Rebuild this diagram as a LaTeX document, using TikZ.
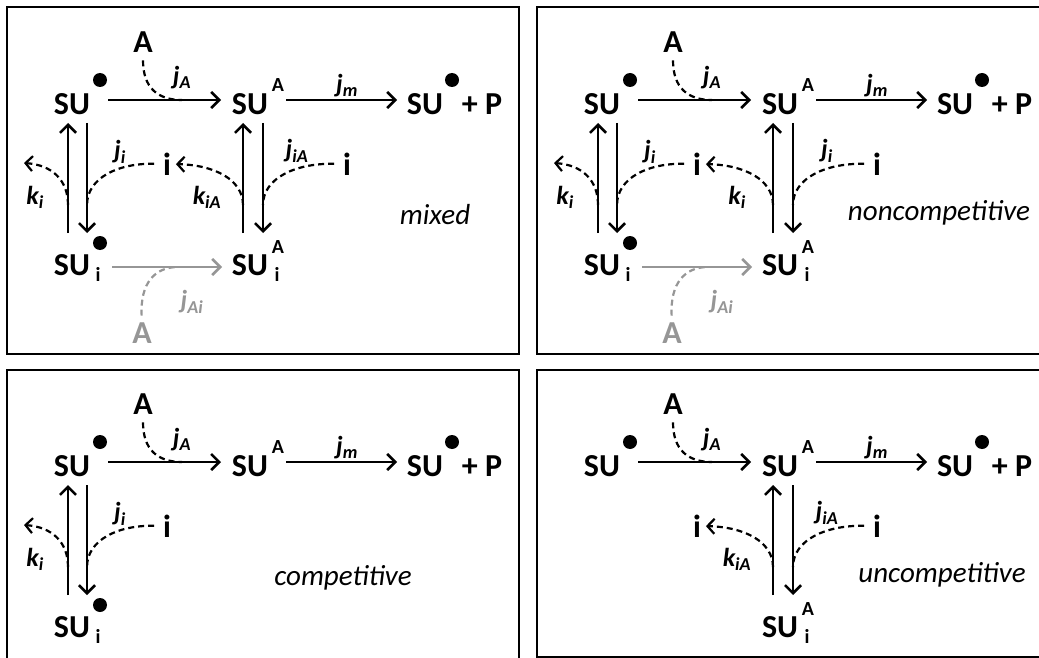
\documentclass[tikz,border=0pt]{standalone}
\usepackage{fontspec}
\setmainfont{Carlito}
\usepackage{tikz}
\usetikzlibrary{positioning,arrows.meta}
\definecolor{faded}{HTML}{969696}

\begin{document}
\begin{tikzpicture}[x=1pt,y=-1pt,
  every node/.style={inner sep=0pt,outer sep=0pt},
  spec/.style={font=\fontsize{32}{34}\selectfont\bfseries},
  tag/.style={font=\fontsize{20}{22}\selectfont\bfseries},
  rate/.style={font=\fontsize{26}{28}\selectfont\bfseries\itshape},
  kind/.style={font=\fontsize{29}{31}\selectfont\itshape},
  dot/.style={circle,fill,minimum size=14pt},
  react/.style={line width=2.6pt,-{Straight Barb[length=8pt,width=16pt]}},
  bind/.style={line width=2.2pt,dash pattern=on 6pt off 4pt},
  release/.style={bind,-{Straight Barb[length=7pt,width=15pt]}},
  panel/.style={line width=2.6pt}]
  \useasboundingbox (0,0) rectangle (1039,658);
  \def\core{
    \node[spec] (su) at (72,104) {SU};
    \node[dot] (sudot) at (100,80) {};
    \node[spec] (sua) at (250,104) {SU};
    \node[tag] (suasup) at (278,85) {A};
    \node[spec] (sup) at (425,104) {SU};
    \node[dot] (supdot) at (452,80) {};
    \node[spec] (prod) at (482,104) {+ P};
    \node[spec] (atop) at (143,42) {A};
    \node[rate] (ja) at (182,78) {j\textsubscript{A}};
    \node[rate] (jm) at (347,86) {j\textsubscript{m}};
    \node[spec] (imid) at (167,164) {i};
    \coordinate (r1a) at (108,100); \coordinate (r1b) at (221,100);
    \coordinate (r2a) at (286,100); \coordinate (r2b) at (397,100);
    \coordinate (ain) at (182,100);
    \draw[react] (r1a) -- (r1b);
    \draw[react] (r2a) -- (r2b);
    \draw[bind,shorten <=8pt] (atop.south) .. controls (143,88) and (158,100) .. (ain);
  }
  \def\leftpair{
    \coordinate (lup1) at (68,233); \coordinate (lup2) at (68,123);
    \coordinate (ldn1) at (87,123); \coordinate (ldn2) at (87,233);
    \draw[react] (lup1) -- (lup2);
    \draw[react] (ldn1) -- (ldn2);
    \node[rate] (kl) at (35,197) {k\textsubscript{i}};
    \node[rate] (jl) at (120,152) {j\textsubscript{i}};
    \coordinate (klfrom) at (68,205); \coordinate (klout) at (24,163);
    \coordinate (jlinto) at (87,205);
    \draw[release] (klfrom) .. controls (68,180) and (52,165) .. (klout);
    \draw[bind,shorten <=9pt] (imid.west) .. controls (118,163) and (87,178) .. (jlinto);
    \node[spec] (sui) at (72,265) {SU};
    \node[tag] (suisub) at (98,274) {i};
    \node[dot] (suidot) at (100,243) {};
  }
  \def\rightpair#1{
    \coordinate (rup1) at (243,233); \coordinate (rup2) at (243,123);
    \coordinate (rdn1) at (263,123); \coordinate (rdn2) at (263,233);
    \draw[react] (rup1) -- (rup2);
    \draw[react] (rdn1) -- (rdn2);
    \node[spec] (iright) at (347,164) {i};
    \node[rate] (kr) at (207,197) {k\textsubscript{#1}};
    \node[rate] (jr) at (297,151) {j\textsubscript{#1}};
    \coordinate (krfrom) at (243,205); \coordinate (jrinto) at (263,205);
    \draw[release,shorten >=5pt] (krfrom) .. controls (243,180) and (215,165) .. (imid.east);
    \draw[bind,shorten <=9pt] (iright.west) .. controls (296,163) and (263,178) .. (jrinto);
    \node[spec] (suia) at (250,265) {SU};
    \node[tag] (suiasup) at (278,247) {A};
    \node[tag] (suiasub) at (277,274) {i};
  }
  \def\greyrow{
    \coordinate (g1) at (112,267); \coordinate (g2) at (222,267);
    \coordinate (gin) at (178,267);
    \draw[react,faded] (g1) -- (g2);
    \node[spec,faded] (abot) at (142,333) {A};
    \node[rate,faded] (jai) at (192,302) {j\textsubscript{Ai}};
    \draw[bind,faded,shorten <=7pt] (abot.north) .. controls (140,283) and (155,267) .. (gin);
  }
  \draw[panel] (7,7) rectangle (519,354);
  \draw[panel] (537,7) rectangle (1049,354);
  \draw[panel] (7,370) rectangle (519,668);
  \draw[panel] (537,370) rectangle (1049,657.5);
  \begin{scope}[name prefix=mx-]
    \core \leftpair \rightpair{iA} \greyrow
    \node[kind] (kind) at (435,215) {mixed};
  \end{scope}
  \begin{scope}[shift={(530,0)},name prefix=nc-]
    \core \leftpair \rightpair{i} \greyrow
    \node[kind] (kind) at (409,213) {noncompetitive};
  \end{scope}
  \begin{scope}[shift={(0,362)},name prefix=co-]
    \core \leftpair
    \node[kind] (kind) at (343,216) {competitive};
  \end{scope}
  \begin{scope}[shift={(530,362)},name prefix=uc-]
    \core \rightpair{iA}
    \node[kind] (kind) at (412,213) {uncompetitive};
  \end{scope}
\end{tikzpicture}
\end{document}
